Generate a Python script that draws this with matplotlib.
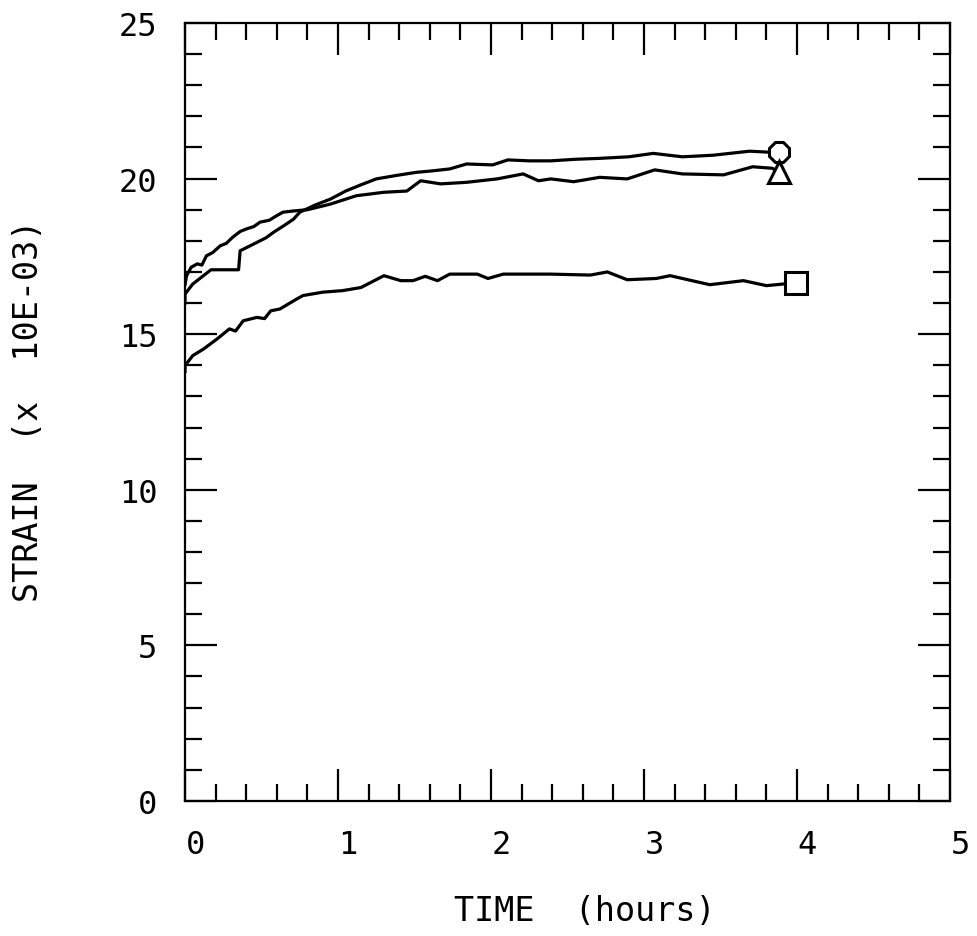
import matplotlib.pyplot as plt
import matplotlib.transforms as mtransforms
from matplotlib.ticker import MultipleLocator

# strain curves (time in hours, strain x 10E-03)
circle_t = [0.0, 0.0, 0.05, 0.12, 0.17, 0.35, 0.36, 0.45, 0.53, 0.58, 0.65, 0.71,
            0.75, 0.85, 0.95, 1.05, 1.15, 1.25, 1.38, 1.51, 1.62, 1.73, 1.84, 2.01,
            2.11, 2.25, 2.39, 2.55, 2.71, 2.90, 3.06, 3.25, 3.45, 3.69, 3.81, 3.88]
circle_s = [16.0, 16.29, 16.61, 16.88, 17.07, 17.07, 17.68, 17.90, 18.10, 18.28, 18.50, 18.70,
            18.92, 19.15, 19.34, 19.60, 19.80, 19.99, 20.10, 20.20, 20.25, 20.31, 20.47, 20.44,
            20.60, 20.57, 20.57, 20.62, 20.65, 20.70, 20.81, 20.70, 20.75, 20.88, 20.85, 20.85]

triangle_t = [0.0, 0.01, 0.04, 0.08, 0.11, 0.14, 0.18, 0.23, 0.27, 0.31, 0.36, 0.40,
              0.45, 0.49, 0.55, 0.60, 0.64, 0.71, 0.80, 0.95, 1.12, 1.30, 1.45, 1.54,
              1.67, 1.84, 2.04, 2.21, 2.31, 2.39, 2.54, 2.71, 2.89, 3.07, 3.25, 3.52,
              3.71, 3.84, 3.88]
triangle_s = [16.6, 16.88, 17.15, 17.26, 17.22, 17.52, 17.62, 17.84, 17.92, 18.11, 18.30, 18.38,
              18.46, 18.60, 18.66, 18.81, 18.92, 18.96, 19.00, 19.18, 19.45, 19.56, 19.60, 19.93,
              19.83, 19.88, 19.99, 20.15, 19.93, 19.99, 19.90, 20.04, 19.99, 20.28, 20.15, 20.12,
              20.38, 20.33, 20.20]

square_t = [0.0, 0.0, 0.05, 0.12, 0.21, 0.29, 0.33, 0.38, 0.47, 0.52, 0.56, 0.62,
            0.73, 0.77, 0.90, 1.03, 1.15, 1.30, 1.41, 1.49, 1.57, 1.65, 1.73, 1.91,
            1.98, 2.08, 2.39, 2.65, 2.76, 2.89, 3.08, 3.17, 3.43, 3.65, 3.80, 3.99]
square_s = [13.8, 13.99, 14.31, 14.52, 14.85, 15.17, 15.10, 15.43, 15.54, 15.50, 15.75, 15.81,
            16.13, 16.24, 16.35, 16.40, 16.50, 16.88, 16.72, 16.72, 16.86, 16.72, 16.93, 16.93,
            16.79, 16.93, 16.93, 16.90, 17.00, 16.75, 16.79, 16.88, 16.59, 16.72, 16.56, 16.65]

series = [(circle_t, circle_s, "8"), (triangle_t, triangle_s, "^"), (square_t, square_s, "s")]

plt.rcParams['font.family'] = ['DejaVu Sans Mono', 'DejaVu Sans']

fig = plt.figure(figsize=(9.77, 9.37), dpi=100)
ax = fig.add_axes([0.1894, 0.1441, 0.783, 0.8303])

for t, s, mk in series:
    ax.plot(t, s, color="black", lw=2.3)
    ax.plot(t[-1], s[-1], marker=mk, ms=16, mfc="white", mec="black", mew=2.2,
            linestyle="none", zorder=3)

ax.set_xlim(0, 5)
ax.set_ylim(0, 25)
ax.xaxis.set_major_locator(MultipleLocator(1))
ax.xaxis.set_minor_locator(MultipleLocator(0.2))
ax.yaxis.set_major_locator(MultipleLocator(5))
ax.yaxis.set_minor_locator(MultipleLocator(1))

ax.tick_params(which="both", direction="in", top=True, right=True, width=1.6,
               labelsize=23, color="black")
ax.tick_params(which="major", length=23)
ax.tick_params(which="minor", length=12)
ax.tick_params(axis="x", pad=20)
ax.tick_params(axis="y", pad=20)

for sp in ax.spines.values():
    sp.set_linewidth(1.6)

# x tick labels sit a little to the right of their ticks
offset = mtransforms.ScaledTranslation(10 / 100, 0, fig.dpi_scale_trans)
for lab in ax.get_xticklabels():
    lab.set_transform(lab.get_transform() + offset)

ax.set_xlabel("TIME  (hours)", fontsize=24, va="center")
ax.xaxis.set_label_coords(0.523, -0.1414)
ax.set_ylabel("STRAIN  (x  10E-03)", fontsize=24, va="center")
ax.yaxis.set_label_coords(-0.205, 0.5026)

fig.savefig("out.png", dpi=100)
